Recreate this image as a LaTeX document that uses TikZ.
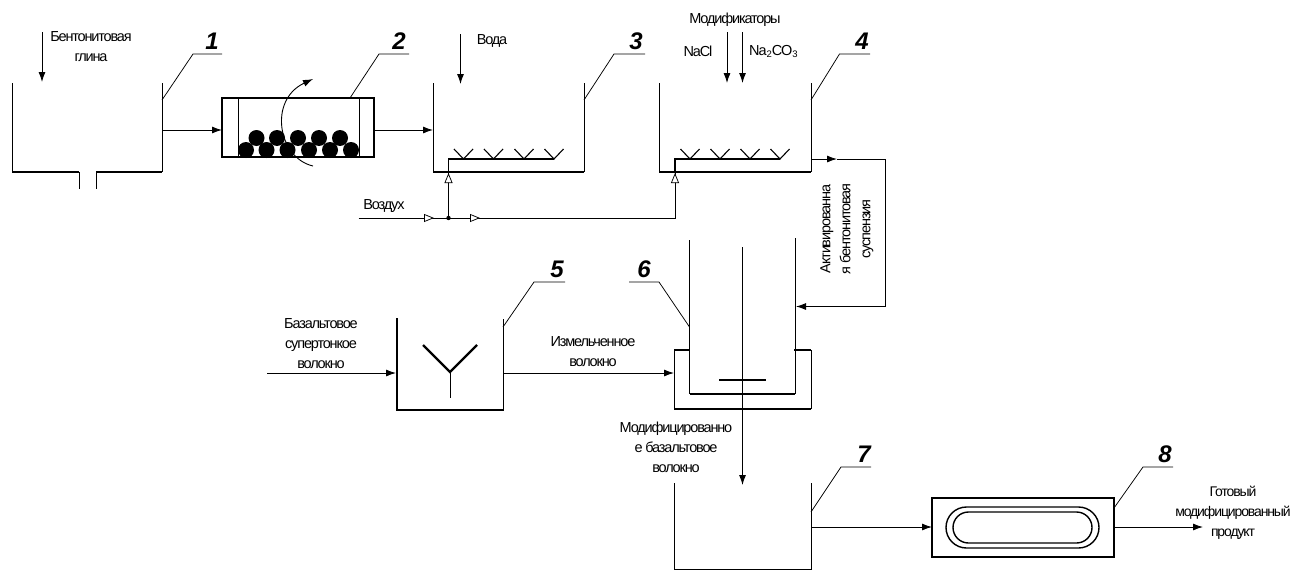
\documentclass[tikz,border=0pt]{standalone}
\usepackage{fontspec}
\setmainfont{Liberation Sans}[LetterSpace=-8]
\newfontfamily\numfont{Liberation Sans}[BoldItalicFont={Liberation Sans Bold Italic}]
\usetikzlibrary{arrows.meta,calc}
\tikzset{
  wall/.style={line width=0.9pt,black},
  heavy/.style={line width=2.4pt,black},
  leader/.style={line width=0.75pt,black},
  flow/.style={line width=0.9pt,black,-{Latex[length=10pt,width=7pt]}},
  lbl/.style={font=\fontsize{14.5pt}{20pt}\selectfont,align=center,inner sep=0pt},
  num/.style={font=\numfont\fontsize{24pt}{24pt}\selectfont\bfseries\itshape,inner sep=0pt},
  ball/.style={circle,fill=black,minimum size=16pt,inner sep=0pt},
  opentip/.style={{Triangle[open,fill=white,length=10pt,width=8pt]}-},
  appbox/.style={draw=black,line width=2.4pt,inner sep=0pt,fill=none}
}
\newcommand{\spargerV}[1]{\draw[line width=1.1pt] ($(#1)+(-9.5,-10)$) -- (#1) -- ($(#1)+(9.5,-10)$);}
\begin{document}
\begin{tikzpicture}[x=1pt,y=-1pt]
\useasboundingbox (0,0) rectangle (1291,570);
% ---- tank 1
\coordinate (t1tl) at (12,83);\coordinate (t1bl) at (12,172);\coordinate (t1tr) at (162,83);\coordinate (t1br) at (162,172);
\coordinate (o1) at (79,172);\coordinate (o2) at (96,172);\coordinate (o1e) at (79,189);\coordinate (o2e) at (96,189);
\draw[wall] (t1tl) -- (t1bl);\draw[wall] (t1tr) -- (t1br);
\draw[heavy] (t1bl) -- (o1);\draw[heavy] (o2) -- (t1br);
\draw[wall] (o1) -- (o1e);\draw[wall] (o2) -- (o2e);
\coordinate (clayS) at (42,32);\coordinate (clayE) at (42,82);
\draw[flow] (clayS) -- (clayE);
\node[lbl] (clay) at (91,47) {Бентонитовая\\глина};
\coordinate (l1a) at (162,100);\coordinate (l1b) at (193,54);\coordinate (l1c) at (222,54);
\draw[leader] (l1a) -- (l1b) -- (l1c);
\node[num] (n1) at (212,41) {1};
% ---- mill 2
\node[appbox,minimum width=152pt,minimum height=59pt] (mill) at (298,127.5) {};
\coordinate (mi1t) at (238,98);\coordinate (mi1b) at (238,157);\coordinate (mi2t) at (359,98);\coordinate (mi2b) at (359,157);
\draw[wall] (mi1t) -- (mi1b);\draw[wall] (mi2t) -- (mi2b);
\foreach \i/\x in {1/246,2/266.5,3/287.5,4/309,5/330,6/351}{\node[ball] (bb\i) at (\x,150) {};}
\foreach \i/\x in {1/256.5,2/277,3/298,4/319,5/340}{\node[ball] (bt\i) at (\x,138) {};}
\coordinate (rotS) at (313,166);\coordinate (rotE) at (313,79);
\draw[flow] (rotS) .. controls (278,158) and (268,100) .. (rotE);
\coordinate (l2b) at (379,54);\coordinate (l2c) at (409,54);\coordinate (l2a) at (350,98);
\draw[leader] (l2a) -- (l2b) -- (l2c);
\node[num] (n2) at (399,41) {2};
\coordinate (t1out) at (162,130);\coordinate (m1) at (222,130);\coordinate (m2) at (374,130);\coordinate (t3in) at (433,130);
\draw[flow] (t1out) -- (m1);
\draw[flow] (m2) -- (t3in);
% ---- tank 3
\coordinate (t3tl) at (433,83);\coordinate (t3bl) at (433,172);\coordinate (t3tr) at (584,83);\coordinate (t3br) at (584,172);
\draw[wall] (t3tl) -- (t3bl);\draw[wall] (t3tr) -- (t3br);\draw[heavy] (t3bl) -- (t3br);
\coordinate (watS) at (460.5,34);\coordinate (watE) at (460.5,84);
\draw[flow] (watS) -- (watE);
\node[lbl] (water) at (492,41) {Вода};
\coordinate (p3a) at (448.5,172);\coordinate (p3b) at (448.5,159);\coordinate (p3c) at (554,159);
\draw[line width=1.2pt] (p3a) -- (p3b) -- (p3c);
\foreach \i/\x in {1/463.5,2/493.5,3/524,4/554}{\coordinate (v3\i) at (\x,159);\spargerV{v3\i}}
\coordinate (l3a) at (584,100);\coordinate (l3b) at (614,54);\coordinate (l3c) at (645,54);
\draw[leader] (l3a) -- (l3b) -- (l3c);
\node[num] (n3) at (636,41) {3};
% ---- tank 4
\coordinate (t4tl) at (659,83);\coordinate (t4bl) at (659,172);\coordinate (t4tr) at (811,83);\coordinate (t4br) at (811,172);
\draw[wall] (t4tl) -- (t4bl);\draw[wall] (t4tr) -- (t4br);\draw[heavy] (t4bl) -- (t4br);
\coordinate (m1S) at (727,32);\coordinate (m1E) at (727,83);\coordinate (m2S) at (742.5,32);\coordinate (m2E) at (742.5,83);
\draw[flow] (m1S) -- (m1E);\draw[flow] (m2S) -- (m2E);
\node[lbl] (mods) at (735,20) {Модификаторы};
\node[lbl] (nacl) at (698,51) {NaCl};
\node[lbl] (soda) at (773.5,51) {Na\raisebox{-2pt}{\fontsize{9.5pt}{9.5pt}\selectfont 2}CO\raisebox{-2pt}{\fontsize{9.5pt}{9.5pt}\selectfont 3}};
\coordinate (p4a) at (675,172);\coordinate (p4b) at (675,159);\coordinate (p4c) at (780,159);
\draw[line width=1.2pt] (p4a) -- (p4b) -- (p4c);
\foreach \i/\x in {1/690,2/720,3/750,4/780}{\coordinate (v4\i) at (\x,159);\spargerV{v4\i}}
\coordinate (l4a) at (811,100);\coordinate (l4b) at (839.5,54);\coordinate (l4c) at (870,54);
\draw[leader] (l4a) -- (l4b) -- (l4c);
\node[num] (n4) at (862,41) {4};
% ---- air
\coordinate (airS) at (358.5,218);\coordinate (airJ) at (448.5,218);\coordinate (airC) at (675,218);
\draw[wall] (airS) -- (airC) -- (p4a);
\draw[wall] (airJ) -- (p3a);
\fill (airJ) circle (2.2pt);
\node[lbl] (air) at (384,206) {Воздух};
\coordinate (a1) at (424,218);\coordinate (a1e) at (434,218);\coordinate (a2) at (469.5,218);\coordinate (a2e) at (480,218);
\coordinate (a3) at (448.5,173);\coordinate (a3e) at (448.5,183);\coordinate (a4) at (675,173);\coordinate (a4e) at (675,183);
\draw[opentip,line width=0.75pt] (a1e) -- (a1);
\draw[opentip,line width=0.75pt] (a2e) -- (a2);
\draw[opentip,line width=0.75pt] (a3) -- (a3e);
\draw[opentip,line width=0.75pt] (a4) -- (a4e);
% ---- suspension to 6
\coordinate (s1) at (811,159);\coordinate (s1m) at (837,159);\coordinate (s2) at (885.5,159);\coordinate (s3) at (885.5,306.5);\coordinate (s4) at (796,306.5);
\draw[wall,-{Latex[length=10pt,width=7pt]}] (s1) -- (s1m);
\draw[wall] (s1m) -- (s2) -- (s3);
\draw[flow] (s3) -- (s4);
\node[lbl,rotate=90] (susp) at (847,229) {Активированна\\я бентонитовая\\суспензия};
% ---- mill 5
\coordinate (t5tl) at (397,319);\coordinate (t5bl) at (397,410);\coordinate (t5tr) at (503,319);\coordinate (t5br) at (503,410);
\draw[heavy,line cap=rect] (t5tl) -- (t5bl) -- (t5br);\draw[wall] (t5tr) -- (t5br);
\coordinate (y0) at (450,372);\coordinate (y1) at (423,345);\coordinate (y2) at (477,345);\coordinate (y3) at (450,398);
\draw[heavy] (y1) -- (y0) -- (y2);\draw[wall] (y0) -- (y3);
\coordinate (fibS) at (267,373);\coordinate (fibE) at (396,373);
\draw[flow] (fibS) -- (fibE);
\node[lbl] (fib) at (321,343.5) {Базальтовое\\супертонкое\\волокно};
\coordinate (t5o) at (503,373);\coordinate (r6i) at (674,373);
\draw[flow] (t5o) -- (r6i);
\node[lbl] (cut) at (593,351.5) {Измельченное\\волокно};
\coordinate (l5a) at (503,327);\coordinate (l5b) at (534,282);\coordinate (l5c) at (565,282);
\draw[leader] (l5a) -- (l5b) -- (l5c);
\node[num] (n5) at (557,269) {5};
% ---- reactor 6
\coordinate (r6tl) at (689.5,240);\coordinate (r6bl) at (689.5,394);\coordinate (r6tr) at (795,238);\coordinate (r6br) at (795,394);
\draw[wall] (r6tl) -- (r6bl);\draw[wall] (r6tr) -- (r6br);\draw[heavy] (r6bl) -- (r6br);
\coordinate (j1) at (674,350);\coordinate (j1i) at (690,350);\coordinate (j2i) at (794,350);\coordinate (j2) at (811,350);\coordinate (j3) at (674,409);\coordinate (j4) at (811,409);
\draw[heavy] (j1) -- (j1i);\draw[heavy] (j2i) -- (j2);
\draw[wall] (j1) -- (j3);\draw[wall] (j2) -- (j4);\draw[heavy] (j3) -- (j4);
\coordinate (imp1) at (719,380);\coordinate (imp2) at (766,380);
\draw[heavy] (imp1) -- (imp2);
\coordinate (shT) at (742.5,247);\coordinate (shE) at (742.5,485);
\draw[flow] (shT) -- (shE);
\node[lbl] (mod) at (676,447.5) {Модифицированно\\е базальтовое\\волокно};
\coordinate (l6a) at (689.5,327);\coordinate (l6b) at (659,282);\coordinate (l6c) at (629,282);
\draw[leader] (l6a) -- (l6b) -- (l6c);
\node[num] (n6) at (644,269) {6};
% ---- tank 7
\coordinate (t7tl) at (674,483);\coordinate (t7bl) at (674,569);\coordinate (t7tr) at (811,483);\coordinate (t7br) at (811,569);
\draw[wall] (t7tl) -- (t7bl) -- (t7br) -- (t7tr);
\coordinate (l7a) at (811,512);\coordinate (l7b) at (841,467);\coordinate (l7c) at (871,467);
\draw[leader] (l7a) -- (l7b) -- (l7c);
\node[num] (n7) at (864,454) {7};
% ---- dryer 8
\node[appbox,minimum width=182pt,minimum height=59pt] (dry) at (1023,527.5) {};
\node[draw=black,line width=1.4pt,rounded corners=20.5pt,minimum width=153pt,minimum height=41pt,inner sep=0pt] (dryo) at (1022.5,527.5) {};
\node[draw=black,line width=1.4pt,rounded corners=15.5pt,minimum width=139pt,minimum height=31pt,inner sep=0pt] (dryi) at (1022.5,527.5) {};
\coordinate (t7o) at (811,527);\coordinate (d1) at (932,527);\coordinate (d2) at (1114,527);\coordinate (outE) at (1203,527);
\draw[flow] (t7o) -- (d1);
\draw[flow] (d2) -- (outE);
\node[lbl,font=\fontsize{14pt}{20pt}\selectfont] (prod) at (1233,513) {Готовый\\модифицированный\\продукт};
\coordinate (l8a) at (1114,508);\coordinate (l8b) at (1143,467);\coordinate (l8c) at (1173,467);
\draw[leader] (l8a) -- (l8b) -- (l8c);
\node[num] (n8) at (1165,454) {8};
\end{tikzpicture}
\end{document}
